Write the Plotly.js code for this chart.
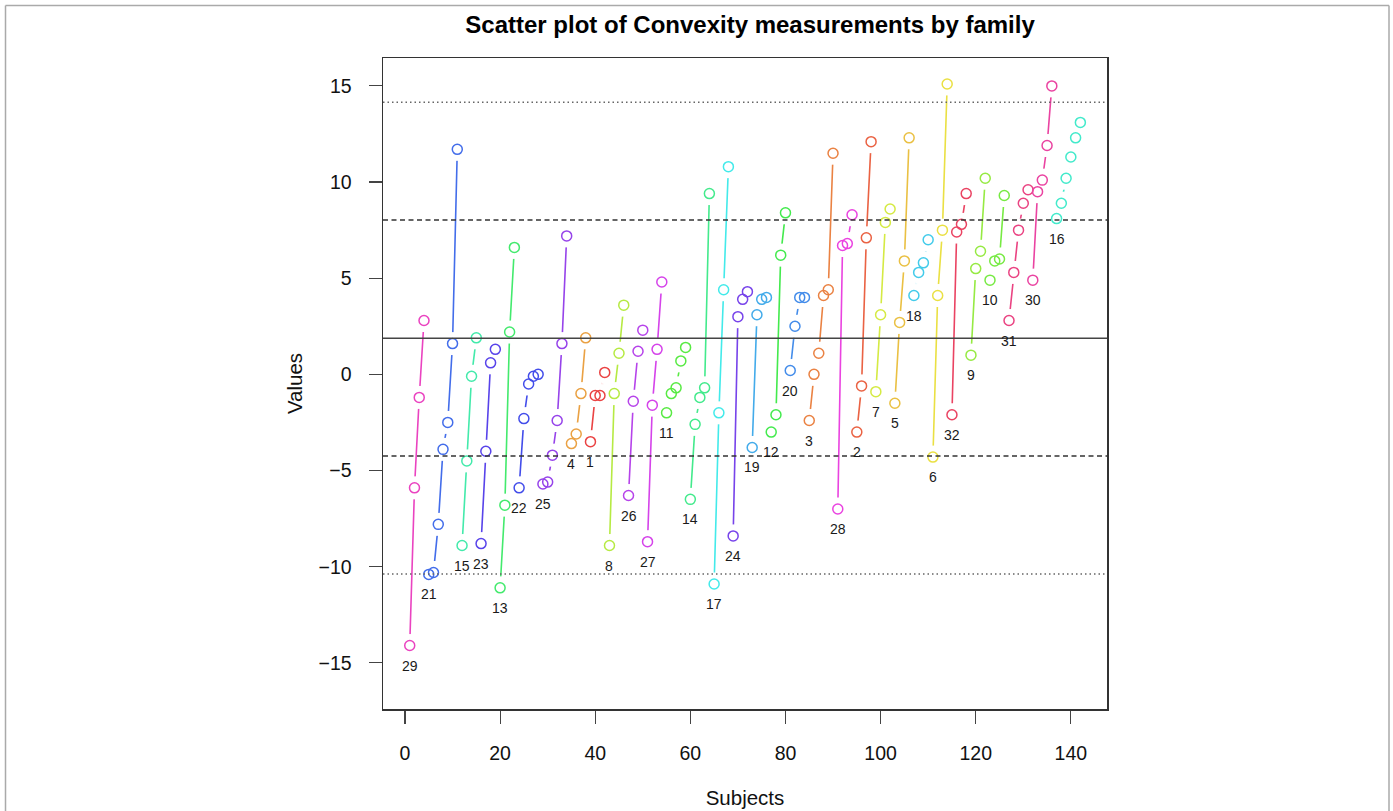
<!DOCTYPE html>
<html>
<head>
<meta charset="utf-8">
<script src="https://cdn.plot.ly/plotly-3.0.1.min.js"></script>
<style>
html,body{margin:0;padding:0;background:#fff;}
#chart{width:1393px;height:811px;}
</style>
</head>
<body>
<div id="chart"></div>
<script>
// Family order along the x axis (subjects sorted by family)
const families = [29,21,15,23,13,22,25,4,1,8,26,27,11,14,17,24,19,12,20,3,28,2,7,5,18,6,32,9,10,31,30,16];

// Convexity values of each family's subjects, in the same order as `families`
const values29 = [-14.1, -5.9, -1.2, 2.8];
const values21 = [-10.4, -10.3, -7.8, -3.9, -2.5, 1.6, 11.7];
const values15 = [-8.9, -4.5, -0.1, 1.9];
const values23 = [-8.8, -4.0, 0.6, 1.3];
const values13 = [-11.1, -6.8, 2.2, 6.6];
const values22 = [-5.9, -2.3, -0.5, -0.1, 0.0];
const values25 = [-5.7, -5.6, -4.2, -2.4, 1.6, 7.2];
const values4  = [-3.6, -3.1, -1.0, 1.9];
const values1  = [-3.5, -1.1, -1.1, 0.1];
const values8  = [-8.9, -1.0, 1.1, 3.6];
const values26 = [-6.3, -1.4, 1.2, 2.3];
const values27 = [-8.7, -1.6, 1.3, 4.8];
const values11 = [-2.0, -1.0, -0.7, 0.7, 1.4];
const values14 = [-6.5, -2.6, -1.2, -0.7, 9.4];
const values17 = [-10.9, -2.0, 4.4, 10.8];
const values24 = [-8.4, 3.0, 3.9, 4.3];
const values19 = [-3.8, 3.1, 3.9, 4.0];
const values12 = [-3.0, -2.1, 6.2, 8.4];
const values20 = [0.2, 2.5, 4.0, 4.0];
const values3  = [-2.4, 0.0, 1.1, 4.1, 4.4, 11.5];
const values28 = [-7.0, 6.7, 6.8, 8.3];
const values2  = [-3.0, -0.6, 7.1, 12.1];
const values7  = [-0.9, 3.1, 7.9, 8.6];
const values5  = [-1.5, 2.7, 5.9, 12.3];
const values18 = [4.1, 5.3, 5.8, 7.0];
const values6  = [-4.3, 4.1, 7.5, 15.1];
const values32 = [-2.1, 7.4, 7.8, 9.4];
const values9  = [1.0, 5.5, 6.4, 10.2];
const values10 = [4.9, 5.9, 6.0, 9.3];
const values31 = [2.8, 5.3, 7.5, 8.9, 9.6];
const values30 = [4.9, 9.5, 10.1, 11.9, 15.0];
const values16 = [8.1, 8.9, 10.2, 11.3, 12.3, 13.1];

const familyValues = [values29,values21,values15,values23,values13,values22,values25,values4,values1,values8,
  values26,values27,values11,values14,values17,values24,values19,values12,values20,values3,values28,values2,
  values7,values5,values18,values6,values32,values9,values10,values31,values30,values16];

// Reference lines: mean +/- 1 and 2 standard deviations
const refValues = [14.15, 8.02, 1.88, -4.25, -10.38];
const refStyles = [
  {dash:'1.5px,3px', color:'#666', width:1.4},
  {dash:'5px,3.5px', color:'#333', width:1.5},
  {dash:'solid', color:'#444', width:1.6},
  {dash:'5px,3.5px', color:'#333', width:1.5},
  {dash:'1.5px,3px', color:'#666', width:1.4}
];

const xTicks = [0,20,40,60,80,100,120,140];
const yTicks = [-15,-10,-5,0,5,10,15];

function famColor(f){
  const h = (f-1)/32*360;
  return 'hsl(' + h.toFixed(2) + ',80%,59%)';
}

const FONT = 'Liberation Sans, Arial, Helvetica, sans-serif';
const traces = [];
const allX = [], allY = [], allC = [];
const annotations = [];
let subject = 1;
families.forEach((f, k) => {
  const vals = familyValues[k];
  const xs = vals.map((v, j) => subject + j);
  subject += vals.length;
  traces.push({
    type:'scatter', mode:'lines', x: xs, y: vals,
    line:{color: famColor(f), width:1.6},
    hoverinfo:'skip', showlegend:false
  });
  xs.forEach((x, j) => { allX.push(x); allY.push(vals[j]); allC.push(famColor(f)); });
  let mi = 0;
  vals.forEach((v, j) => { if (v < vals[mi]) mi = j; });
  annotations.push({
    x: xs[mi], y: vals[mi], xref:'x', yref:'y', text: String(f), showarrow:false,
    yshift:-20, font:{family:FONT, size:14, color:'#1a1a1a'}
  });
});

// white gap masks around each point (R type="b" look)
traces.push({
  type:'scatter', mode:'markers', x: allX, y: allY,
  marker:{symbol:'line-ns-open', size:16.4, color:'#ffffff', line:{width:7}},
  hoverinfo:'skip', showlegend:false
});
// open circles
traces.push({
  type:'scatter', mode:'markers', x: allX, y: allY,
  marker:{symbol:'circle-open', size:10, color: allC, line:{width:1.5}},
  hoverinfo:'skip', showlegend:false
});

const shapes = refValues.map((v, i) => ({
  type:'line', xref:'paper', x0:0, x1:1, yref:'y', y0:v, y1:v,
  line:{color:refStyles[i].color, width:refStyles[i].width, dash:refStyles[i].dash}
}));
// outer frame of the picture
shapes.push({type:'line', xref:'paper', yref:'paper', x0:-0.5214, x1:-0.5214, y0:-0.2, y1:1.0806, line:{color:'#aaa', width:1.5}});
shapes.push({type:'line', xref:'paper', yref:'paper', x0:-0.5214, x1:1.3895, y0:1.0806, y1:1.0806, line:{color:'#aaa', width:1.5}});
shapes.push({type:'line', xref:'paper', yref:'paper', x0:1.3895, x1:1.3895, y0:-0.2, y1:1.0806, line:{color:'#aaa', width:1.5}});

const layout = {
  width:1393, height:811,
  margin:{l:383, r:286, t:58, b:102},
  paper_bgcolor:'#fff', plot_bgcolor:'#fff',
  showlegend:false,
  title:{text:'<b>Scatter plot of Convexity measurements by family</b>', font:{family:FONT, size:24, color:'#000'},
    x:0.507, xref:'paper', xanchor:'center', y:1-25/811, yref:'container', yanchor:'middle'},
  xaxis:{range:[-4.62,147.6], tickvals:xTicks, ticktext:xTicks.map(String),
    ticks:'outside', ticklen:13, tickwidth:1.2, tickcolor:'#444',
    showline:true, mirror:true, linecolor:'#333', linewidth:1.5,
    showgrid:false, zeroline:false,
    tickfont:{family:FONT, size:19.5, color:'#111'}, ticklabelstandoff:13,
    title:{text:'Subjects', font:{family:FONT, size:20.5, color:'#111'}, standoff:27}},
  yaxis:{range:[-17.4,16.45], tickvals:yTicks, ticktext:yTicks.map(v => v < 0 ? '\u2212' + Math.abs(v) : String(v)),
    ticks:'outside', ticklen:13, tickwidth:1.2, tickcolor:'#444',
    showline:true, mirror:true, linecolor:'#333', linewidth:1.5,
    showgrid:false, zeroline:false,
    tickfont:{family:FONT, size:19.5, color:'#111'}, ticklabelstandoff:13,
    title:{text:'Values', font:{family:FONT, size:20.5, color:'#111'}, standoff:10}},
  shapes: shapes,
  annotations: annotations,
  hovermode:false
};

Plotly.newPlot('chart', traces, layout, {displayModeBar:false, staticPlot:true});
</script>
</body>
</html>
